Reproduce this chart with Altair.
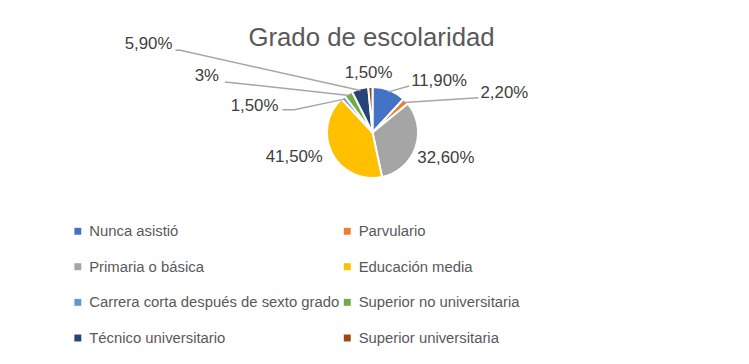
import math
import altair as alt
import pandas as pd

# ---- data ----
categories = [
    "Nunca asistió",
    "Parvulario",
    "Primaria o básica",
    "Educación media",
    "Carrera corta después de sexto grado",
    "Superior no universitaria",
    "Técnico universitario",
    "Superior universitaria",
]
values = [11.9, 2.2, 32.6, 41.5, 1.5, 3.0, 5.9, 1.5]
label_texts = ["11,90%", "2,20%", "32,60%", "41,50%", "1,50%", "3%", "5,90%", "1,50%"]
colors = ["#4472C4", "#ED7D31", "#A5A5A5", "#FFC000",
          "#5B9BD5", "#70AD47", "#264478", "#9E480E"]
title_text = "Grado de escolaridad"

# ---- layout (pixels, plot-area coordinates) ----
W, H = 736, 248
CX, CY = W / 2, H / 2
R = 46
ANCHOR_R = 44
FONT = "Liberation Sans"
# per label: text x, y, align, extra leader points after the slice anchor
label_layout = [
    (407, 72, "left", [(405, 77)]),
    (477, 84, "left", [(475, 89)]),
    (442, 150, "center", []),
    (289, 149, "center", []),
    (273, 97, "right", [(289, 101), (277, 101)]),
    (213, 67, "right", [(219, 73)]),
    (166, 35, "right", [(174, 41), (169, 41)]),
    (364, 64, "center", []),
]

df = pd.DataFrame({"category": categories, "value": values,
                   "idx": list(range(len(categories)))})

# slice mid-angles from data
total = sum(values)
mids = []
acc = 0.0
for v in values:
    mids.append((acc + v / 2) / total * 2 * math.pi)
    acc += v

text_rows = []
line_rows = []
for i, (tx, ty, al, pts) in enumerate(label_layout):
    text_rows.append({"x": tx, "y": ty, "t": label_texts[i], "align": al, "i": i})
    if pts:
        ax = CX + ANCHOR_R * math.sin(mids[i])
        ay = CY - ANCHOR_R * math.cos(mids[i])
        seq = [(ax, ay)] + pts
        for k, (px, py) in enumerate(seq):
            line_rows.append({"seg": i, "o": k, "x": px, "y": py})
tdf = pd.DataFrame(text_rows)
ldf = pd.DataFrame(line_rows)

pie = alt.Chart(df).mark_arc(outerRadius=R, stroke="white", strokeWidth=2).encode(
    theta=alt.Theta("value:Q", stack=True),
    color=alt.Color("category:N", sort=categories,
                    scale=alt.Scale(domain=categories, range=colors),
                    legend=alt.Legend(title=None, orient="none", legendX=63, legendY=216,
                                      columns=2, direction="horizontal",
                                      symbolType="square", symbolSize=49,
                                      symbolStrokeWidth=0, labelFont=FONT, labelFontSize=15,
                                      labelColor="#595959", rowPadding=20, columnPadding=-6,
                                      labelOffset=4, labelLimit=400)),
    order=alt.Order("idx:Q"),
)

lines = alt.Chart(ldf).mark_line(color="#A6A6A6", strokeWidth=1.5).encode(
    x=alt.X("x:Q", scale=None), y=alt.Y("y:Q", scale=None),
    detail="seg:N", order="o:Q")

def text_layer(align):
    return alt.Chart(tdf[tdf["align"] == align]).mark_text(
        align=align, baseline="middle", font=FONT, fontSize=17, color="#404040").encode(
        x=alt.X("x:Q", scale=None), y=alt.Y("y:Q", scale=None), text="t:N")

title = alt.Chart(pd.DataFrame({"t": [title_text]})).mark_text(
    font=FONT, fontSize=26, color="#595959", baseline="middle").encode(
    x=alt.value(367), y=alt.value(29), text="t:N")

chart = alt.layer(pie, lines, text_layer("left"), text_layer("center"),
                  text_layer("right"), title).properties(
    width=W, height=H,
    autosize=alt.AutoSizeParams(type="none"),
    padding={"left": 0, "top": 0, "right": 4, "bottom": 100},
).configure_view(stroke=None)

chart.save("out.html", embed_options={"renderer": "svg", "actions": False})
